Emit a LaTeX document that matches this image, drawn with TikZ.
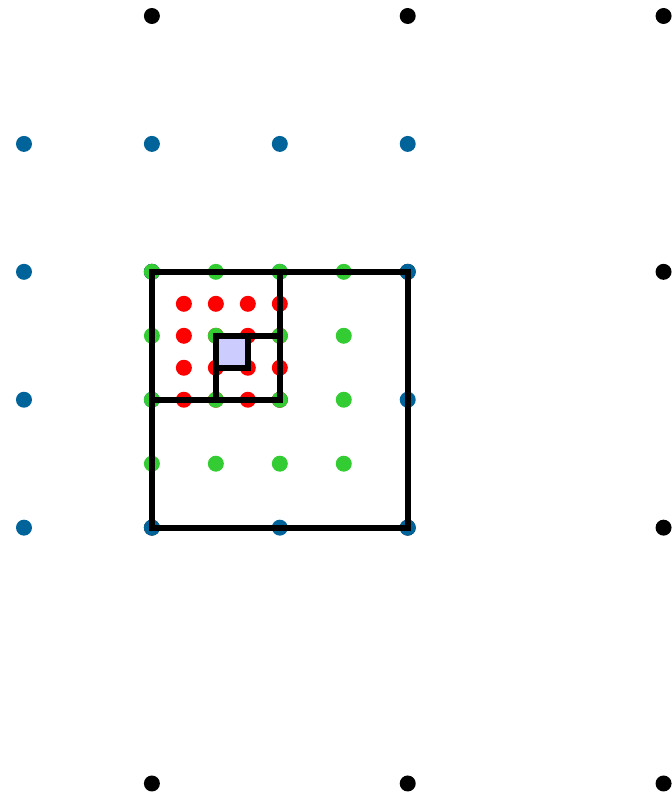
\documentclass[tikz,border=0pt]{standalone}
\usepackage{tikz}
\definecolor{dotblue}{RGB}{0,100,154}
\definecolor{dotgreen}{RGB}{51,204,51}
\definecolor{cellfill}{RGB}{204,204,255}

\begin{document}
\begin{tikzpicture}[
  dot/.style={circle, fill=#1, inner sep=0pt, minimum size=0.25cm},
  frame/.style={draw=black, line width=2.7pt},
]
\useasboundingbox (-2.375,-4.18) rectangle (8.125,8.25);

% Level 0 (black)
\foreach \i in {0,1,2}
  \foreach \j in {0,...,3}
    \node[dot=black] (k-\i-\j) at (4*\i, 8-4*\j) {};

% Level 1 (blue)
\foreach \i in {0,...,3}
  \foreach \j in {0,...,3}
    \node[dot=dotblue] (b-\i-\j) at (2*\i-2, 6-2*\j) {};

% Level 3 (red)
\foreach \i in {0,...,3}
  \foreach \j in {0,...,3}
    \node[dot=red] (r-\i-\j) at (0.5+0.5*\i, 3.5-0.5*\j) {};

% Level 2 (green)
\foreach \i in {0,...,3}
  \foreach \j in {0,...,3}
    \node[dot=dotgreen] (g-\i-\j) at (\i, 4-\j) {};

% Nested cells
\draw[frame] (0,0) rectangle (4,4);
\draw[frame] (0,2) rectangle (2,4);
\draw[frame] (1,2) rectangle (2,3);
\draw[frame, fill=cellfill] (1,2.5) rectangle (1.5,3);

\end{tikzpicture}
\end{document}
